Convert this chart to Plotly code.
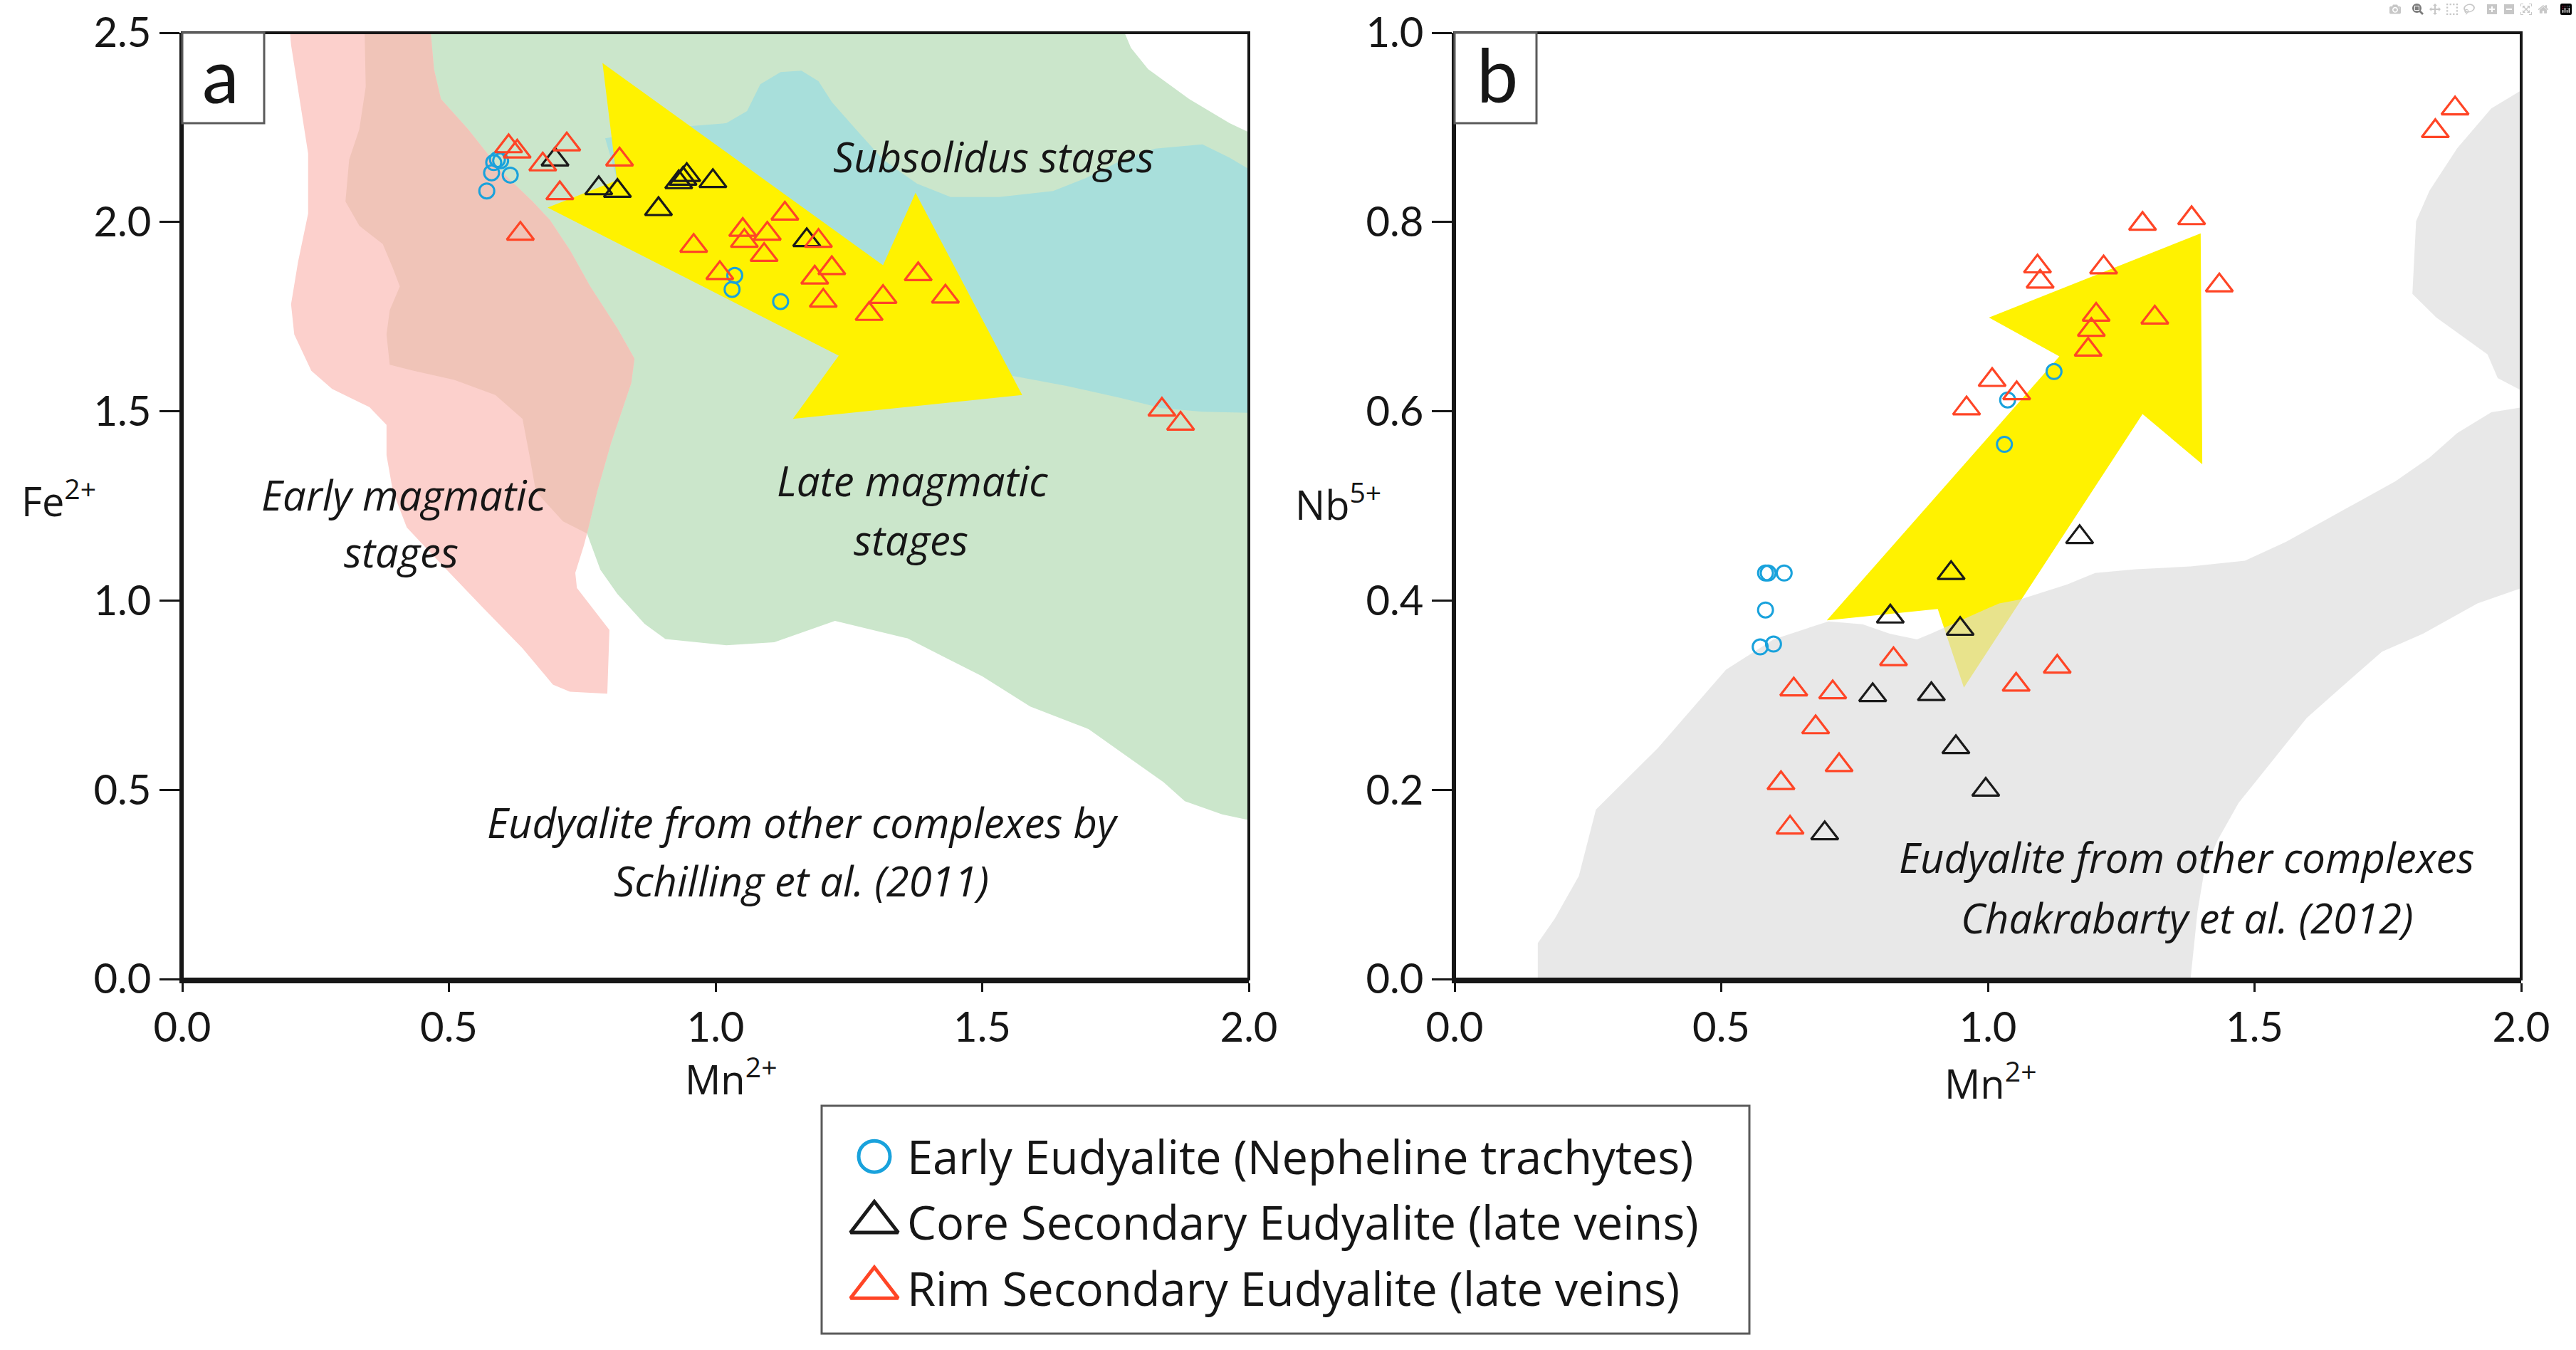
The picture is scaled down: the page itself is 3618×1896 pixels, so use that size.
import plotly.graph_objects as go

W, H = 3618, 1896
FONT = "Lato, 'Liberation Sans', Arial, sans-serif"
TFONT = "'Open Sans', Lato, Arial, sans-serif"
INK = "#161616"

# ---------------- data : panel a (Fe2+ vs Mn2+) ----------------
early_a_mn = [0.571, 0.580, 0.584, 0.591, 0.597, 0.615, 1.036, 1.031, 1.122]
early_a_fe = [2.082, 2.130, 2.157, 2.165, 2.162, 2.124, 1.859, 1.822, 1.790]
core_a_mn = [0.699, 0.781, 0.816, 0.893, 0.931, 0.939, 0.946, 0.995, 1.171]
core_a_fe = [2.165, 2.089, 2.082, 2.034, 2.105, 2.114, 2.124, 2.108, 1.952]
rim_a_mn = [0.612, 0.628, 0.676, 0.721, 0.820, 0.708, 0.634, 0.959, 1.008, 1.051, 1.054, 1.097,
            1.091, 1.130, 1.193, 1.186, 1.218, 1.202, 1.288, 1.314, 1.380, 1.431, 1.837, 1.872]
rim_a_fe = [2.200, 2.186, 2.152, 2.205, 2.165, 2.076, 1.969, 1.937, 1.865, 1.979, 1.950, 1.969,
            1.913, 2.022, 1.950, 1.853, 1.878, 1.792, 1.757, 1.802, 1.862, 1.803, 1.504, 1.467]

# ---------------- data : panel b (Nb5+ vs Mn2+) ----------------
early_b_mn = [0.583, 0.588, 0.618, 0.583, 0.573, 0.598, 1.037, 1.031, 1.124]
early_b_nb = [0.429, 0.429, 0.429, 0.390, 0.351, 0.354, 0.612, 0.565, 0.642]
core_b_mn = [1.172, 0.931, 0.817, 0.948, 0.784, 0.894, 0.940, 0.996, 0.694]
core_b_nb = [0.467, 0.429, 0.383, 0.370, 0.300, 0.301, 0.245, 0.200, 0.154]
rim_b_mn = [1.876, 1.839, 1.290, 1.382, 1.093, 1.098, 1.217, 1.434, 1.203, 1.313, 1.194, 1.188,
            1.008, 1.054, 0.960, 0.823, 1.130, 1.053, 0.636, 0.709, 0.677, 0.721, 0.612, 0.629]
rim_b_nb = [0.920, 0.896, 0.798, 0.804, 0.753, 0.737, 0.752, 0.733, 0.702, 0.699, 0.686, 0.665,
            0.633, 0.619, 0.603, 0.338, 0.330, 0.311, 0.306, 0.303, 0.266, 0.226, 0.207, 0.160]

series_names = ["Early Eudyalite (Nepheline trachytes)",
                "Core Secondary Eudyalite (late veins)",
                "Rim Secondary Eudyalite (late veins)"]

# ---------------- fields (Mn2+, Fe2+) panel a ----------------
pink_right = [(0.466, 2.5), (0.472, 2.404), (0.485, 2.325), (0.536, 2.245), (0.599, 2.133),
              (0.657, 2.054), (0.689, 2.006), (0.727, 1.926), (0.765, 1.830), (0.816, 1.719),
              (0.848, 1.639), (0.842, 1.575), (0.804, 1.416), (0.778, 1.288), (0.759, 1.177)]
pink_tail = [(0.753, 1.145), (0.737, 1.073), (0.740, 1.033), (0.801, 0.922), (0.797, 0.754),
             (0.727, 0.759), (0.695, 0.778), (0.638, 0.874), (0.561, 0.985), (0.485, 1.097),
             (0.421, 1.193), (0.395, 1.288), (0.383, 1.384), (0.383, 1.464), (0.351, 1.511),
             (0.281, 1.559), (0.242, 1.607), (0.210, 1.703), (0.204, 1.783), (0.217, 1.894),
             (0.236, 2.022), (0.236, 2.181), (0.204, 2.468), (0.202, 2.5)]
green_left = [(0.342, 2.5), (0.344, 2.357), (0.332, 2.245), (0.313, 2.165), (0.306, 2.054),
              (0.332, 1.990), (0.376, 1.942), (0.395, 1.878), (0.408, 1.830), (0.389, 1.767),
              (0.383, 1.703), (0.389, 1.623), (0.434, 1.607), (0.510, 1.583), (0.587, 1.543),
              (0.638, 1.480), (0.651, 1.384), (0.663, 1.288), (0.714, 1.209), (0.759, 1.177)]
green_rest = [(0.784, 1.081), (0.816, 1.017), (0.867, 0.938), (0.906, 0.898), (1.020, 0.882),
              (1.110, 0.890), (1.224, 0.946), (1.300, 0.920), (1.360, 0.900), (1.430, 0.850),
              (1.500, 0.800), (1.590, 0.720), (1.700, 0.660), (1.780, 0.580), (1.840, 0.520),
              (1.880, 0.470), (1.950, 0.435), (2.0, 0.420), (2.0, 2.237), (1.964, 2.261),
              (1.888, 2.325), (1.811, 2.404), (1.779, 2.460), (1.767, 2.5)]
subsolidus = [(0.793, 2.221), (0.893, 2.245), (0.950, 2.253), (1.020, 2.261), (1.059, 2.293),
              (1.084, 2.364), (1.122, 2.396), (1.161, 2.400), (1.193, 2.372), (1.218, 2.317),
              (1.263, 2.245), (1.314, 2.165), (1.378, 2.101), (1.441, 2.066), (1.531, 2.066),
              (1.633, 2.082), (1.696, 2.117), (1.760, 2.162), (1.824, 2.194), (1.913, 2.205),
              (1.964, 2.170), (2.0, 2.140), (2.0, 1.496), (1.913, 1.499), (1.837, 1.508),
              (1.760, 1.535), (1.658, 1.567), (1.556, 1.594), (1.467, 1.639), (1.276, 1.751),
              (1.084, 1.894), (0.893, 2.022), (0.816, 2.109)]
arrow_a = [(0.788, 2.420), (1.314, 1.886), (1.375, 2.077), (1.575, 1.543), (1.145, 1.480),
           (1.231, 1.647), (0.685, 2.038), (0.815, 2.110)]

# ---------------- fields (Mn2+, Nb5+) panel b ----------------
arrow_b = [(0.698, 0.379), (1.134, 0.658), (1.002, 0.699), (1.399, 0.788), (1.402, 0.544),
           (1.290, 0.597), (0.955, 0.308), (0.906, 0.391)]
grey_main = [(0.156, 0.0), (0.156, 0.038), (0.188, 0.064), (0.233, 0.109), (0.265, 0.179),
             (0.381, 0.244), (0.509, 0.327), (0.598, 0.359), (0.701, 0.378), (0.765, 0.375),
             (0.816, 0.365), (0.867, 0.359), (0.893, 0.365), (1.021, 0.397), (1.060, 0.401),
             (1.149, 0.417), (1.201, 0.429), (1.277, 0.433), (1.380, 0.436), (1.482, 0.442),
             (1.559, 0.462), (1.662, 0.494), (1.764, 0.526), (1.828, 0.551), (1.880, 0.577),
             (1.944, 0.599), (2.0, 0.604), (2.0, 0.413), (1.918, 0.397), (1.816, 0.365),
             (1.739, 0.346), (1.662, 0.308), (1.598, 0.276), (1.534, 0.231), (1.470, 0.186),
             (1.431, 0.147), (1.406, 0.115), (1.393, 0.071), (1.380, 0.0)]
grey_top = [(2.0, 0.939), (1.944, 0.920), (1.880, 0.878), (1.828, 0.833), (1.803, 0.801),
            (1.796, 0.724), (1.841, 0.699), (1.905, 0.673), (1.937, 0.660), (1.956, 0.635),
            (2.0, 0.622)]

# field labels
labels_a = [("Subsolidus stages", 1.522, 2.173), ("Early magmatic", 0.415, 1.280),
            ("stages", 0.411, 1.129), ("Late magmatic", 1.369, 1.317), ("stages", 1.367, 1.161),
            ("Eudyalite from other complexes by", 1.163, 0.415),
            ("Schilling et al. (2011)", 1.161, 0.260)]
labels_b = [("Eudyalite from other complexes", 1.373, 0.129),
            ("Chakrabarty et al. (2012)", 1.373, 0.065)]

# styles
CYAN, BLACK, RED = "#19a2dc", "#1a1a1a", "#ff4526"
C_GREEN, C_PINK, C_OVER = "#cbe6cb", "#fcd0cc", "#f0c4b8"
C_CYAN, C_YEL = "#a8dfdb", "#fff200"
C_GREY = "rgba(219,219,219,0.64)"
sym = ["circle-open", "triangle-up-open", "triangle-up-open"]
cols = [CYAN, BLACK, RED]
msize = [21, 33, 33]


def field(pts, color, xa, ya):
    x = [p[0] for p in pts]
    y = [p[1] for p in pts]
    return go.Scatter(x=x + [x[0]], y=y + [y[0]], mode="lines", fill="toself",
                      fillcolor=color, line=dict(width=0, color=color),
                      hoverinfo="skip", showlegend=False, xaxis=xa, yaxis=ya)


fig = go.Figure()
# panel a fields
fig.add_trace(field(green_left + green_rest, C_GREEN, "x", "y"))
fig.add_trace(field(subsolidus, C_CYAN, "x", "y"))
fig.add_trace(field(pink_right + pink_tail, C_PINK, "x", "y"))
fig.add_trace(field(green_left + pink_right[::-1], C_OVER, "x", "y"))
fig.add_trace(field(arrow_a, C_YEL, "x", "y"))
# panel b fields
fig.add_trace(field(arrow_b, C_YEL, "x2", "y2"))
fig.add_trace(field(grey_main, C_GREY, "x2", "y2"))
fig.add_trace(field(grey_top, C_GREY, "x2", "y2"))

data_a = [(early_a_mn, early_a_fe), (core_a_mn, core_a_fe), (rim_a_mn, rim_a_fe)]
data_b = [(early_b_mn, early_b_nb), (core_b_mn, core_b_nb), (rim_b_mn, rim_b_nb)]
for i, name in enumerate(series_names):
    lw = 3 if i == 0 else 3.2
    for (xs, ys), xa, ya in [(data_a[i], "x", "y"), (data_b[i], "x2", "y2")]:
        fig.add_trace(go.Scatter(x=xs, y=ys, mode="markers", name=name, showlegend=False,
                                 xaxis=xa, yaxis=ya,
                                 marker=dict(symbol=sym[i], size=msize[i], color=cols[i],
                                             line=dict(width=lw, color=cols[i]))))
    # legend key glyph
    fig.add_trace(go.Scatter(x=[0], y=[len(series_names) - 1 - i], mode="markers",
                             showlegend=False, hoverinfo="skip", xaxis="x3", yaxis="y3",
                             cliponaxis=False,
                             marker=dict(symbol=sym[i], size=[44, 58, 58][i], color=cols[i],
                                         line=dict(width=5, color=cols[i]))))

Y_DOM = [1 - 1375 / H, 1 - 46 / H]
XA_DOM = [256 / W, 1754 / W]
XB_DOM = [2043 / W, 3541 / W]
axis_common = dict(showgrid=False, zeroline=False, showline=True, linecolor=INK,
                   ticks="outside", tickwidth=3, tickcolor=INK, automargin=False,
                   tickfont=dict(family=FONT, size=58, color=INK), tickformat=".1f")
# tick-only overlay axes give the long x ticks while labels sit close to the axis
tick_only = dict(showgrid=False, zeroline=False, showline=False, ticks="outside", ticklen=28,
                 tickwidth=3, tickcolor=INK, showticklabels=False, automargin=False,
                 range=[0, 2], dtick=0.5)
fig.update_layout(
    width=W, height=H, margin=dict(l=0, r=0, t=0, b=0, autoexpand=False),
    paper_bgcolor="white", plot_bgcolor="white", font=dict(family=FONT, color=INK),
    xaxis=dict(domain=XA_DOM, range=[0, 2], dtick=0.5, anchor="y", ticklen=12,
               linewidth=6, **axis_common),
    yaxis=dict(domain=Y_DOM, range=[0, 2.5], dtick=0.5, anchor="x", linewidth=4, ticklen=28,
               **axis_common),
    xaxis2=dict(domain=XB_DOM, range=[0, 2], dtick=0.5, anchor="y2", ticklen=12,
                linewidth=6, **axis_common),
    yaxis2=dict(domain=Y_DOM, range=[0, 1.0], dtick=0.2, anchor="x2", linewidth=4, ticklen=28,
                **axis_common),
    xaxis3=dict(domain=[1208 / W, 1248 / W], range=[-1, 1], visible=False, anchor="y3",
                automargin=False),
    yaxis3=dict(domain=[0.02163, 0.16772], range=[-0.5, 2.5], visible=False, anchor="x3",
                automargin=False),
    xaxis4=dict(overlaying="x", anchor="y", **tick_only),
    xaxis5=dict(overlaying="x2", anchor="y2", **tick_only),
)

shapes = []
for xr, yr in [("x domain", "y domain"), ("x2 domain", "y2 domain")]:
    shapes.append(dict(type="rect", xref=xr, yref=yr, x0=0, x1=1, y0=0, y1=1,
                       line=dict(color=INK, width=4), layer="above"))
    shapes.append(dict(type="rect", xref=xr, yref=yr, xsizemode="pixel", ysizemode="pixel",
                       xanchor=0, yanchor=1, x0=0, x1=115, y0=-127, y1=0,
                       fillcolor="white", line=dict(color="#5a5a5a", width=3), layer="above"))
shapes.append(dict(type="rect", xref="paper", yref="paper", x0=1154 / W, x1=2457 / W,
                   y0=1 - 1873 / H, y1=1 - 1553 / H, line=dict(color="#5a5a5a", width=3),
                   fillcolor="rgba(0,0,0,0)"))
fig.update_layout(shapes=shapes)

ann = []
for txt, x, y in labels_a:
    ann.append(dict(text="<i>%s</i>" % txt, x=x, y=y, xref="x", yref="y", showarrow=False,
                    font=dict(family=TFONT, size=58, color=INK), xanchor="center",
                    yanchor="middle"))
for txt, x, y in labels_b:
    ann.append(dict(text="<i>%s</i>" % txt, x=x, y=y, xref="x2", yref="y2", showarrow=False,
                    font=dict(family=TFONT, size=58, color=INK), xanchor="center",
                    yanchor="middle"))
# panel letters
ann.append(dict(text="a", x=310 / W, y=1 - 105 / H, xref="paper", yref="paper", showarrow=False,
                font=dict(family=FONT, size=104, color=INK), xanchor="center", yanchor="middle"))
ann.append(dict(text="b", x=2103 / W, y=1 - 103 / H, xref="paper", yref="paper", showarrow=False,
                font=dict(family=FONT, size=104, color=INK), xanchor="center", yanchor="middle"))
# axis titles
for txt, px, py in [("Fe<sup>2+</sup>", 28, 700), ("Nb<sup>5+</sup>", 1817, 705),
                    ("Mn<sup>2+</sup>", 960, 1512), ("Mn<sup>2+</sup>", 2729, 1518)]:
    ann.append(dict(text=txt, x=px / W, y=1 - py / H, xref="paper", yref="paper",
                    showarrow=False, font=dict(family=TFONT, size=56, color=INK),
                    xanchor="left", yanchor="middle"))
# legend texts
for i, name in enumerate(series_names):
    ann.append(dict(text=name, x=1272 / W, y=1 - [1624, 1716, 1809][i] / H, xref="paper",
                    yref="paper", showarrow=False, font=dict(family=TFONT, size=65, color=INK),
                    xanchor="left", yanchor="middle"))
fig.update_layout(annotations=ann)

fig.write_html("out.html", post_script="document.body.style.margin='0px';")
